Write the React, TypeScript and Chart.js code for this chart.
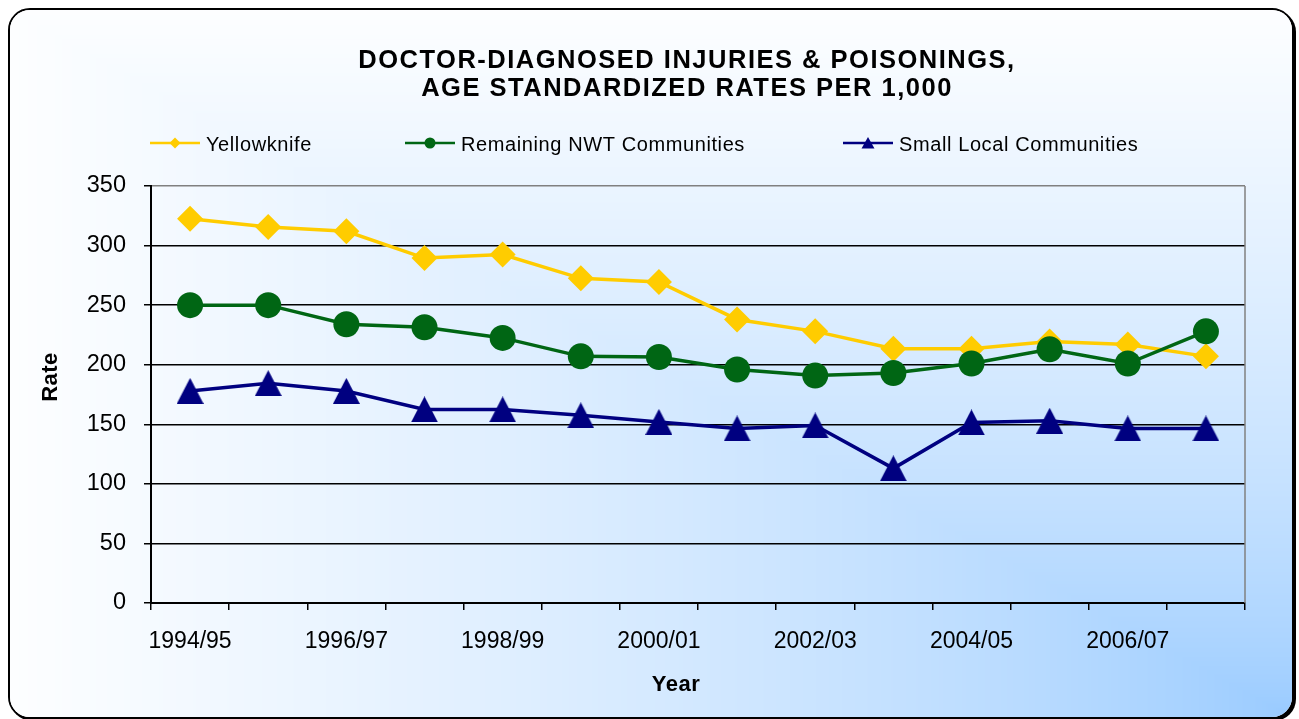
import React, { useEffect, useRef } from 'react';
import { Chart, registerables } from 'chart.js';

Chart.register(...registerables);

// ---- Data ----
const categories = [
  '1994/95', '1995/96', '1996/97', '1997/98', '1998/99', '1999/00', '2000/01',
  '2001/02', '2002/03', '2003/04', '2004/05', '2005/06', '2006/07', '2007/08',
];
const yellowknife = [322.5, 315.5, 312, 289.5, 292.5, 272.5, 269.5, 238, 228, 213.5, 213.5, 219.5, 217, 207];
const remainingNWT = [250, 250, 234, 231.5, 222.5, 207, 206.5, 196, 191, 193, 201, 213, 201, 228];
const smallLocal = [178, 184.5, 178, 162.5, 162.5, 157.5, 152, 146.5, 149, 113, 151.5, 153, 146.5, 146.5];
const seriesNames = ['Yellowknife', 'Remaining NWT Communities', 'Small Local Communities'];
const titleLines = ['DOCTOR-DIAGNOSED INJURIES & POISONINGS,', 'AGE STANDARDIZED RATES PER 1,000'];
const xTitle = 'Year';
const yTitle = 'Rate';
const yMin = 0;
const yMax = 350;
const yStep = 50;

// ---- Styles ----
const FONT = "'Liberation Sans', Arial, Helvetica, sans-serif";
const YELLOW = '#FFCC00';
const GREEN = '#006614';
const NAVY = '#000080';
const W = 1282;
const H = 707;

function makeTriangle(w: number, h: number, color: string) {
  const c = document.createElement('canvas');
  c.width = w;
  c.height = h;
  const g = c.getContext('2d')!;
  g.fillStyle = color;
  g.beginPath();
  g.moveTo(w / 2, 0);
  g.lineTo(w, h);
  g.lineTo(0, h);
  g.closePath();
  g.fill();
  return c;
}

let bgImage: ImageData | null = null;

const decorPlugin = {
  id: 'decor',
  beforeDraw(chart: any) {
    const ctx: CanvasRenderingContext2D = chart.ctx;
    if (!bgImage) {
      bgImage = ctx.createImageData(W, H);
      const d = bgImage.data;
      const c0 = [253, 254, 255];
      const c1 = [150, 201, 255];
      for (let y = 0; y < H; y++) {
        for (let x = 0; x < W; x++) {
          const s = Math.max((W - x) / W, (H - y) / H);
          const t = Math.pow(Math.min(1, s), 0.7);
          const i = (y * W + x) * 4;
          d[i] = c1[0] + (c0[0] - c1[0]) * t;
          d[i + 1] = c1[1] + (c0[1] - c1[1]) * t;
          d[i + 2] = c1[2] + (c0[2] - c1[2]) * t;
          d[i + 3] = 255;
        }
      }
    }
    ctx.putImageData(bgImage, 0, 0);
  },
  afterDraw(chart: any) {
    const ctx: CanvasRenderingContext2D = chart.ctx;
    const a = chart.chartArea;
    ctx.save();
    // plot-area right border
    ctx.strokeStyle = '#808080';
    ctx.lineWidth = 1.5;
    ctx.beginPath();
    ctx.moveTo(a.right, a.top);
    ctx.lineTo(a.right, a.bottom);
    ctx.stroke();

    // title
    ctx.fillStyle = '#000';
    ctx.textAlign = 'center';
    ctx.textBaseline = 'alphabetic';
    ctx.font = `bold 25.5px ${FONT}`;
    (ctx as any).letterSpacing = '1.5px';
    ctx.fillText(titleLines[0], 677, 57.5);
    ctx.fillText(titleLines[1], 677, 86);

    // legend
    (ctx as any).letterSpacing = '0.6px';
    ctx.font = `20px ${FONT}`;
    ctx.textAlign = 'left';
    const legend = [
      { x: 140, color: YELLOW, kind: 'diamond' },
      { x: 395, color: GREEN, kind: 'circle' },
      { x: 833, color: NAVY, kind: 'triangle' },
    ];
    const ly = 133;
    legend.forEach((it, i) => {
      ctx.strokeStyle = it.color;
      ctx.lineWidth = 2.5;
      ctx.beginPath();
      ctx.moveTo(it.x, ly);
      ctx.lineTo(it.x + 50, ly);
      ctx.stroke();
      const cx = it.x + 25;
      ctx.fillStyle = it.color;
      ctx.beginPath();
      if (it.kind === 'diamond') {
        ctx.moveTo(cx, ly - 5.5);
        ctx.lineTo(cx + 5.5, ly);
        ctx.lineTo(cx, ly + 5.5);
        ctx.lineTo(cx - 5.5, ly);
        ctx.closePath();
      } else if (it.kind === 'circle') {
        ctx.arc(cx, ly, 5.5, 0, Math.PI * 2);
      } else {
        ctx.moveTo(cx, ly - 6);
        ctx.lineTo(cx + 6.5, ly + 5.5);
        ctx.lineTo(cx - 6.5, ly + 5.5);
        ctx.closePath();
      }
      ctx.fill();
      ctx.fillStyle = '#000';
      ctx.fillText(seriesNames[i], it.x + 56, ly + 8);
    });

    // axis titles
    (ctx as any).letterSpacing = '0.5px';
    ctx.font = `bold 22px ${FONT}`;
    ctx.textAlign = 'center';
    ctx.fillText(xTitle, 666, 681);
    ctx.save();
    ctx.translate(39, 367);
    ctx.rotate(-Math.PI / 2);
    ctx.fillText(yTitle, 0, 8);
    ctx.restore();

    (ctx as any).letterSpacing = '0px';
    ctx.restore();
  },
};

export default function App() {
  const ref = useRef<HTMLCanvasElement>(null);

  useEffect(() => {
    const triBig = makeTriangle(27, 26, NAVY);
    const chart = new Chart(ref.current!, {
      type: 'line',
      data: {
        labels: categories,
        datasets: [
          {
            label: seriesNames[0],
            data: yellowknife,
            borderColor: YELLOW,
            backgroundColor: YELLOW,
            borderWidth: 3.5,
            pointStyle: 'rectRot',
            pointRadius: 13,
            pointBorderWidth: 0,
            pointBackgroundColor: YELLOW,
            tension: 0,
            order: 3,
          },
          {
            label: seriesNames[1],
            data: remainingNWT,
            borderColor: GREEN,
            backgroundColor: GREEN,
            borderWidth: 3.5,
            pointStyle: 'circle',
            pointRadius: 13,
            pointBorderWidth: 0,
            pointBackgroundColor: GREEN,
            tension: 0,
            order: 2,
          },
          {
            label: seriesNames[2],
            data: smallLocal,
            borderColor: NAVY,
            backgroundColor: NAVY,
            borderWidth: 3.5,
            pointStyle: triBig as any,
            pointRadius: 13,
            pointBorderWidth: 0,
            pointBackgroundColor: NAVY,
            tension: 0,
            order: 1,
          },
        ],
      },
      options: {
        responsive: false,
        animation: false,
        events: [],
        layout: { padding: { left: 0, top: 176, right: 47, bottom: 0 } },
        plugins: {
          legend: { display: false },
          title: { display: false },
          tooltip: { enabled: false },
        },
        scales: {
          x: {
            type: 'category',
            offset: true,
            grid: {
              offset: true,
              drawOnChartArea: false,
              drawTicks: true,
              tickLength: 7,
              color: '#000',
              lineWidth: 1.5,
            },
            border: { color: '#000', width: 2 },
            ticks: {
              autoSkip: false,
              maxRotation: 0,
              minRotation: 0,
              padding: 18,
              color: '#000',
              font: { family: FONT, size: 23 },
              callback: (_v: any, i: number) => (i % 2 === 0 ? categories[i] : ''),
            },
            afterFit: (s: any) => {
              s.height = 114;
            },
          },
          y: {
            min: yMin,
            max: yMax,
            grid: {
              color: (c: any) => (c.tick && c.tick.value === yMax ? '#808080' : '#000'),
              tickColor: '#000',
              lineWidth: 1.5,
              tickLength: 7,
              drawTicks: true,
            },
            border: { color: '#000', width: 2 },
            ticks: {
              stepSize: yStep,
              padding: 18,
              color: '#000',
              font: { family: FONT, size: 23.5 },
            },
            afterFit: (s: any) => {
              s.width = 141;
            },
          },
        },
      },
      plugins: [decorPlugin],
    } as any);
    return () => chart.destroy();
  }, []);

  return (
    <div
      style={{
        position: 'fixed',
        left: 8,
        top: 8,
        width: W,
        height: H,
        border: '2px solid #000',
        borderRadius: 22,
        overflow: 'hidden',
        boxShadow: '2px 2px 0 0 #000',
        background: '#fff',
      }}
    >
      <canvas ref={ref} width={W} height={H} style={{ display: 'block', width: W, height: H }} />
    </div>
  );
}
